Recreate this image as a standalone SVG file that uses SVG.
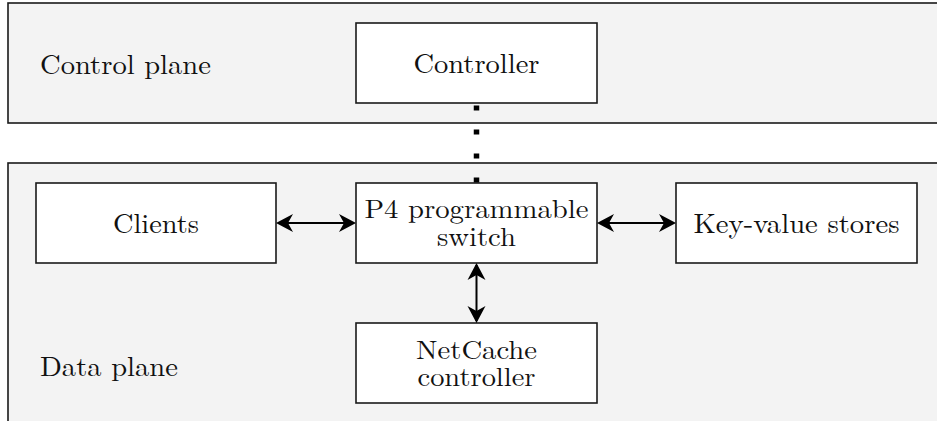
<svg xmlns="http://www.w3.org/2000/svg" width="937" height="421" viewBox="0 0 937 421">
  <style>
    .panel { fill: #f3f3f3; stroke: #1a1a1a; stroke-width: 1.6; }
    .box { fill: #ffffff; stroke: #1a1a1a; stroke-width: 1.6; }
    text { font-family: 'Latin Modern Roman', 'DejaVu Serif', serif; font-size: 28px; fill: #111111; }
    .two { font-size: 26.5px; }
    .c { text-anchor: middle; }
    .conn { stroke: #000; stroke-width: 2; fill: none; }
    .dots { stroke: #000; stroke-width: 5.5; stroke-dasharray: 5 19; fill: none; }
  </style>
  <defs>
    <marker id="arr" viewBox="-20 -10 22 20" refX="-2" refY="0" markerWidth="22" markerHeight="20" markerUnits="userSpaceOnUse" orient="auto-start-reverse">
      <path d="M0,0 L-17,-9 L-12,0 L-17,9 Z" fill="#000"/>
    </marker>
  </defs>

  <g id="control-plane">
    <rect class="panel" x="8" y="3" width="940" height="120"/>
    <text x="40" y="74" textLength="171" lengthAdjust="spacingAndGlyphs">Control plane</text>
  </g>
  <g id="data-plane">
    <rect class="panel" x="8" y="163" width="940" height="270"/>
    <text x="40" y="376" textLength="138" lengthAdjust="spacingAndGlyphs">Data plane</text>
  </g>

  <g id="controller">
    <rect class="box" x="356" y="23" width="241" height="80"/>
    <text class="c" x="476.5" y="73" textLength="126" lengthAdjust="spacingAndGlyphs">Controller</text>
  </g>
  <g id="clients">
    <rect class="box" x="36" y="183" width="240" height="80"/>
    <text class="c" x="156" y="233" textLength="86" lengthAdjust="spacingAndGlyphs">Clients</text>
  </g>
  <g id="switch">
    <rect class="box" x="356" y="183" width="241" height="80"/>
    <text class="c two" x="476.5" y="218" textLength="224" lengthAdjust="spacingAndGlyphs">P4 programmable</text>
    <text class="c two" x="476.5" y="246" textLength="79" lengthAdjust="spacingAndGlyphs">switch</text>
  </g>
  <g id="kv-stores">
    <rect class="box" x="676" y="183" width="241" height="80"/>
    <text class="c" x="796.5" y="233" textLength="206" lengthAdjust="spacingAndGlyphs">Key-value stores</text>
  </g>
  <g id="netcache">
    <rect class="box" x="356" y="323" width="241" height="80"/>
    <text class="c two" x="476.5" y="359" textLength="121" lengthAdjust="spacingAndGlyphs">NetCache</text>
    <text class="c two" x="476.5" y="386" textLength="118" lengthAdjust="spacingAndGlyphs">controller</text>
  </g>

  <g id="connectors">
    <line class="dots" x1="476.5" y1="105.5" x2="476.5" y2="183"/>
    <line class="conn" x1="278" y1="223" x2="354" y2="223" marker-start="url(#arr)" marker-end="url(#arr)"/>
    <line class="conn" x1="599" y1="223" x2="674" y2="223" marker-start="url(#arr)" marker-end="url(#arr)"/>
    <line class="conn" x1="476.5" y1="265" x2="476.5" y2="321" marker-start="url(#arr)" marker-end="url(#arr)"/>
  </g>
</svg>
